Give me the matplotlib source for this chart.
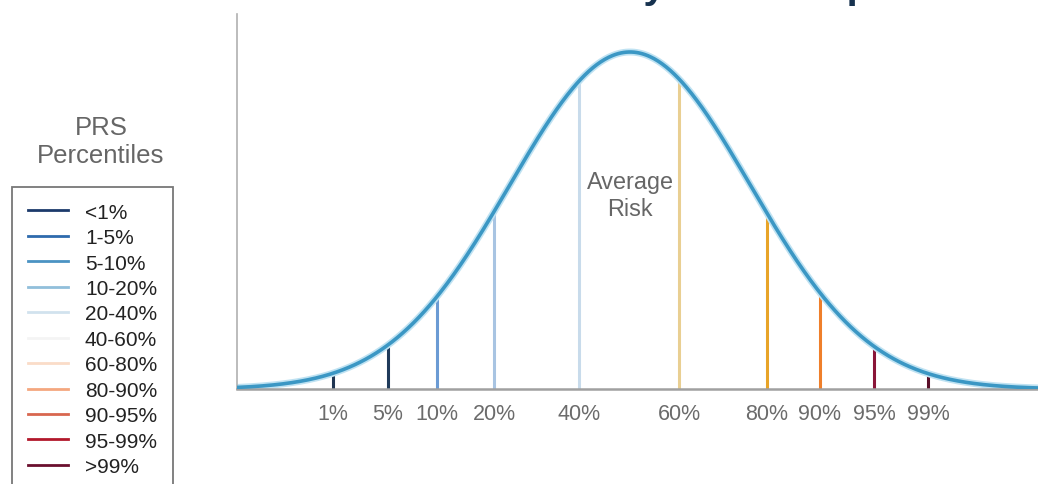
import numpy as np
import matplotlib.pyplot as plt
from matplotlib.lines import Line2D

plt.rcParams['font.family'] = ['Liberation Sans', 'DejaVu Sans']

# Positions of the percentile cut-offs (in standard deviations from the mean)
percentiles = ['1%', '5%', '10%', '20%', '40%', '60%', '80%', '90%', '95%', '99%']
z_positions = [-2.475, -2.017, -1.608, -1.133, -0.425, 0.408, 1.142, 1.583, 2.033, 2.483]
line_colors = ['#1f3552', '#1f3a5a', '#6b9bd4', '#a8c4e2', '#c8dbeb',
               '#e9cf92', '#e8a428', '#ef7f2a', '#8a1538', '#5a0e28']

# Legend categories
legend_labels = ['<1%', '1-5%', '5-10%', '10-20%', '20-40%', '40-60%',
                 '60-80%', '80-90%', '90-95%', '95-99%', '>99%']
legend_colors = ['#1c3a6b', '#2e6aad', '#4b93c3', '#91bfdb', '#d1e2ee', '#f4f4f4',
                 '#fadcc8', '#f4a77f', '#d8674f', '#b2182b', '#6a0f2e']

W, H = 1038, 485
fig = plt.figure(figsize=(W / 100, H / 100), dpi=100)
ax = fig.add_axes([237 / W, 1 - 390 / H, (W - 237) / W, 375 / H])

# courbe en cloche
x = np.linspace(-3.275, 3.4, 600)
y = np.exp(-x ** 2 / 2)
ax.plot(x, y, color='#bfe2f2', lw=5, solid_capstyle='round', zorder=2)
ax.plot(x, y, color='#3b97c4', lw=2.6, zorder=3)

for z, c in zip(z_positions, line_colors):
    ax.plot([z, z], [0, np.exp(-z ** 2 / 2)], color=c, lw=2.2, zorder=1)

ax.set_xlim(-3.275, 3.4)
ax.set_ylim(0, 375 / 337)
ax.set_yticks([])
ax.set_xticks(z_positions)
ax.set_xticklabels(percentiles, fontsize=15.5, color='#6b6b6b')
ax.tick_params(axis='x', length=0, pad=10)
for s in ['top', 'right']:
    ax.spines[s].set_visible(False)
ax.spines['left'].set_color('#b0b0b0')
ax.spines['left'].set_linewidth(1.2)
ax.spines['bottom'].set_color('#a0a0a0')
ax.spines['bottom'].set_linewidth(1.8)

ax.text(0.0, 0.575, 'Average\nRisk', ha='center', va='center', fontsize=16.8,
        color='#666666', linespacing=1.25)

# légende
handles = [Line2D([0], [0], color=c, lw=2) for c in legend_colors]
leg = fig.legend(handles, legend_labels, loc='upper left',
                 bbox_to_anchor=(12 / W, 1 - 188 / H), bbox_transform=fig.transFigure,
                 fontsize=15, frameon=True, fancybox=False, borderpad=0.75,
                 handlelength=1.95, handletextpad=0.8, labelspacing=0.31,
                 borderaxespad=0)
leg.get_frame().set_edgecolor('#555555')
leg.get_frame().set_linewidth(1.3)
for t in leg.get_texts():
    t.set_color('#222222')

fig.text(101 / W, 1 - 142 / H, 'PRS\nPercentiles', ha='center', va='center',
         fontsize=18.5, color='#666666', linespacing=1.2)

# titre coupé en haut de l'image
fig.text(65 / W, 1 + 2 / H, 'Distribution of Disease Liability in the Population',
         ha='left', va='baseline', fontsize=29, fontweight='bold', color='#16324f')

fig.savefig('out.png', dpi=100)
